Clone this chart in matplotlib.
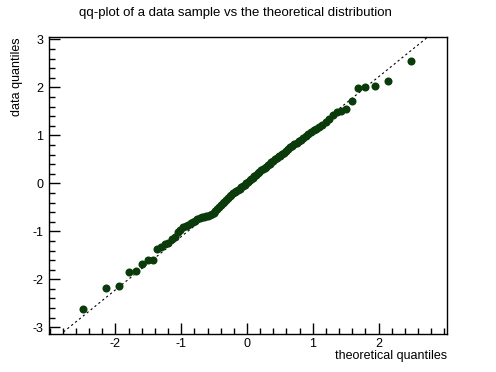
import numpy as np
import matplotlib
matplotlib.use('Agg')
import matplotlib.pyplot as plt
from matplotlib.ticker import MultipleLocator

plt.rcParams['font.family'] = ['Liberation Sans', 'DejaVu Sans']
plt.rcParams['axes.unicode_minus'] = False

# theoretical quantiles (lower half, upper half mirrors it)
theo_low = [-2.498, -2.139, -1.940, -1.797, -1.684, -1.589, -1.505, -1.432, -1.365, -1.305,
            -1.248, -1.195, -1.146, -1.099, -1.054, -1.012, -0.971, -0.932, -0.894, -0.857,
            -0.821, -0.787, -0.753, -0.721, -0.688, -0.657, -0.626, -0.596, -0.566, -0.537,
            -0.508, -0.480, -0.452, -0.425, -0.398, -0.371, -0.344, -0.318, -0.292, -0.266,
            -0.240, -0.215, -0.189, -0.164, -0.138, -0.113, -0.088, -0.063, -0.038, -0.0125]
theo = theo_low + [-v for v in theo_low[::-1]]

# sorted data sample
data = [-2.62, -2.19, -2.15, -1.85, -1.83, -1.69, -1.60, -1.60, -1.375, -1.32,
        -1.27, -1.24, -1.17, -1.12, -1.02, -0.98, -0.92, -0.89, -0.86, -0.82,
        -0.80, -0.78, -0.75, -0.73, -0.71, -0.70, -0.69, -0.68, -0.66, -0.64,
        -0.61, -0.58, -0.53, -0.49, -0.45, -0.41, -0.38, -0.34, -0.31, -0.27,
        -0.24, -0.21, -0.19, -0.16, -0.13, -0.11, -0.08, -0.06, -0.03, 0.00,
        0.03, 0.06, 0.09, 0.12, 0.15, 0.18, 0.21, 0.24, 0.27, 0.30,
        0.33, 0.35, 0.38, 0.41, 0.44, 0.47, 0.50, 0.53, 0.56, 0.58,
        0.61, 0.64, 0.68, 0.71, 0.75, 0.78, 0.81, 0.84, 0.88, 0.91,
        0.95, 0.99, 1.02, 1.07, 1.11, 1.14, 1.17, 1.22, 1.27, 1.34,
        1.42, 1.49, 1.51, 1.55, 1.71, 1.99, 2.00, 2.03, 2.13, 2.55]

xticks = [-2, -1, 0, 1, 2]
yticks = [-3, -2, -1, 0, 1, 2, 3]

# reference line
line_x = [-2.79, 2.73]
slope = 1.11

fig = plt.figure(figsize=(4.96, 3.72), dpi=100)
ax = fig.add_axes([49/496, 38/372, 398/496, 297/372])

ax.plot(line_x, [slope*v for v in line_x], color='black', lw=0.8, ls=(0, (2, 2.5)))
ax.plot(theo, data, 'o', color='#0b3b0b', markersize=5.8, markeredgewidth=0)

ax.set_xlim(-3.01, 3.04)
ax.set_ylim(-3.14, 3.05)
ax.set_xticks(xticks)
ax.set_yticks(yticks)
ax.xaxis.set_minor_locator(MultipleLocator(0.2))
ax.yaxis.set_minor_locator(MultipleLocator(0.2))
ax.tick_params(which='both', direction='in', top=False, right=False, labelsize=9, width=1)
ax.tick_params(which='major', length=8)
ax.tick_params(which='minor', length=4)
ax.tick_params(axis='x', pad=3)
ax.tick_params(axis='y', pad=4)
for s in ax.spines.values():
    s.set_linewidth(1)

ax.set_xlabel('theoretical quantiles', fontsize=9, loc='right', labelpad=0)
ax.set_ylabel('data quantiles', fontsize=9, loc='top', labelpad=7)
fig.text(235/496, 1 - 13/372, 'qq-plot of a data sample vs the theoretical distribution',
         ha='center', va='center', fontsize=9.5)

fig.savefig('out.png', dpi=100)
